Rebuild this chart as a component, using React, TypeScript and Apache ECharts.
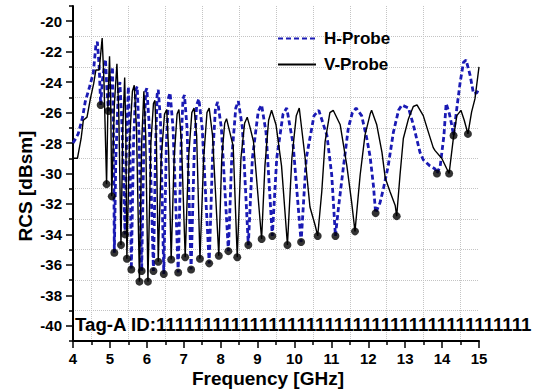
import React, { useEffect, useRef } from "react";
import * as echarts from "echarts";

// H-Probe (blue dashed) : [frequency GHz, RCS dBsm]
const hProbe: number[][] = [
  [4.00, -28.0], [4.05, -27.8], [4.14, -27.4], [4.26, -26.3], [4.33, -25.3], [4.45, -24.3], [4.55, -23.4], [4.62, -21.6], [4.66, -21.35],
  [4.71, -23.0], [4.75, -25.5], [4.80, -23.8], [4.88, -22.5],
  [4.92, -24.5], [4.96, -25.9], [5.01, -24.2], [5.07, -23.0],
  [5.10, -28.0], [5.12, -35.2], [5.16, -29.0], [5.23, -24.5], [5.27, -24.0],
  [5.33, -27.0], [5.41, -34.0], [5.45, -28.0], [5.50, -24.3],
  [5.54, -27.5], [5.58, -36.3], [5.64, -28.0], [5.70, -24.5], [5.74, -24.3],
  [5.79, -27.5], [5.86, -36.4], [5.92, -28.0], [5.97, -24.6], [6.00, -24.4],
  [6.07, -27.0], [6.18, -36.4], [6.24, -28.0], [6.28, -24.8], [6.31, -24.5],
  [6.37, -26.5], [6.46, -36.6], [6.53, -28.0], [6.59, -25.0], [6.63, -24.7],
  [6.71, -27.0], [6.85, -36.5], [6.93, -28.0], [6.98, -25.1], [7.02, -24.85],
  [7.09, -27.0], [7.20, -36.3], [7.28, -29.0], [7.35, -25.5], [7.41, -25.1],
  [7.50, -27.0], [7.69, -35.9], [7.78, -29.0], [7.86, -25.7], [7.92, -25.3],
  [8.02, -27.0], [8.21, -35.1], [8.30, -29.0], [8.41, -25.7], [8.48, -25.25],
  [8.59, -27.0], [8.75, -34.7], [8.86, -29.0], [9.02, -25.9], [9.11, -25.5],
  [9.23, -27.3], [9.40, -34.1], [9.52, -29.0], [9.69, -26.1], [9.79, -25.7],
  [9.96, -28.0], [10.18, -34.5], [10.32, -29.0], [10.53, -26.2], [10.66, -25.85],
  [10.88, -27.5], [11.01, -30.1], [11.08, -32.9], [11.11, -34.1], [11.19, -32.3], [11.33, -29.5], [11.46, -27.0], [11.57, -26.0], [11.67, -25.7],
  [11.82, -26.2], [11.96, -27.7], [12.05, -28.9], [12.14, -30.8], [12.20, -32.6], [12.32, -31.9], [12.41, -31.0], [12.54, -29.5], [12.68, -27.3], [12.82, -25.85], [12.91, -25.5],
  [13.09, -25.7], [13.22, -26.8], [13.40, -28.6], [13.49, -29.1], [13.67, -29.5], [13.81, -29.7], [13.86, -30.0], [13.95, -29.5], [14.05, -27.5], [14.11, -25.4],
  [14.20, -26.1], [14.26, -26.8], [14.31, -27.5], [14.40, -25.7], [14.49, -24.0], [14.58, -22.7], [14.65, -22.55], [14.76, -23.55], [14.85, -24.75], [14.94, -24.7], [15.00, -24.4],
];

// V-Probe (black solid)
const vProbe: number[][] = [
  [4.00, -29.0], [4.12, -29.0], [4.22, -27.7], [4.28, -26.5], [4.38, -26.3], [4.47, -25.1], [4.56, -24.1], [4.62, -23.2], [4.71, -23.2], [4.79, -21.1],
  [4.84, -24.0], [4.91, -30.7], [4.95, -25.0], [4.99, -22.3],
  [5.02, -25.0], [5.05, -31.5], [5.12, -25.5], [5.19, -22.8],
  [5.24, -26.0], [5.30, -34.7], [5.35, -27.0], [5.40, -23.7],
  [5.43, -27.0], [5.46, -35.6], [5.53, -28.0], [5.61, -24.6], [5.66, -24.2],
  [5.72, -27.0], [5.80, -37.1], [5.86, -28.0], [5.92, -24.6],
  [5.97, -27.5], [6.03, -37.1], [6.11, -28.0], [6.18, -25.4], [6.22, -25.2],
  [6.26, -28.0], [6.31, -35.8], [6.39, -29.0], [6.48, -26.1], [6.54, -25.8],
  [6.59, -28.5], [6.66, -35.65], [6.74, -29.0], [6.82, -26.1], [6.87, -25.8],
  [6.94, -28.0], [7.04, -35.5], [7.13, -29.0], [7.22, -26.0], [7.28, -25.7],
  [7.35, -27.5], [7.44, -35.6], [7.54, -29.0], [7.63, -26.0], [7.69, -25.7],
  [7.78, -27.5], [7.95, -35.4], [8.03, -29.0], [8.11, -26.7], [8.16, -26.4],
  [8.22, -27.0], [8.34, -28.2], [8.45, -35.5], [8.55, -29.0], [8.65, -26.7], [8.72, -26.3],
  [8.80, -27.0], [8.89, -27.9], [9.11, -34.3], [9.20, -29.5], [9.30, -26.5], [9.38, -25.85],
  [9.50, -26.8], [9.65, -29.5], [9.81, -34.7], [9.93, -29.0], [10.05, -26.2], [10.13, -25.7],
  [10.29, -29.0], [10.42, -32.2], [10.56, -33.4], [10.63, -34.1], [10.74, -31.2], [10.83, -27.9], [10.96, -26.0], [11.05, -25.85],
  [11.24, -26.8], [11.42, -29.5], [11.55, -31.9], [11.64, -33.8], [11.78, -30.1], [11.91, -27.5], [12.05, -26.1], [12.09, -25.85],
  [12.23, -26.8], [12.37, -28.6], [12.46, -30.3], [12.59, -31.2], [12.73, -32.1], [12.77, -32.8], [12.86, -30.1], [12.95, -27.7], [13.09, -26.4], [13.22, -25.6], [13.32, -25.5],
  [13.49, -26.2], [13.63, -27.3], [13.76, -28.3], [13.81, -28.5], [13.99, -29.0], [14.13, -29.7], [14.19, -30.0], [14.24, -29.0], [14.31, -27.6], [14.40, -26.2], [14.51, -25.85],
  [14.60, -26.5], [14.70, -27.4], [14.80, -25.95], [14.89, -25.1], [15.00, -23.0],
];

// Notch markers (black dots)
const hDips: number[][] = [
  [4.75, -25.5], [4.96, -25.9], [5.12, -35.2], [5.41, -34.0], [5.58, -36.3], [5.86, -36.4], [6.18, -36.4], [6.46, -36.6],
  [6.85, -36.5], [7.20, -36.3], [7.69, -35.9], [8.21, -35.1], [8.75, -34.7], [9.40, -34.1], [10.18, -34.5], [11.11, -34.1],
  [12.20, -32.6], [13.86, -30.0], [14.31, -27.5],
];
const vDips: number[][] = [
  [4.91, -30.7], [5.05, -31.5], [5.30, -34.7], [5.46, -35.6], [5.80, -37.1], [6.03, -37.1], [6.31, -35.8], [6.66, -35.65],
  [7.04, -35.5], [7.44, -35.6], [7.95, -35.4], [8.45, -35.5], [9.11, -34.3], [9.81, -34.7], [10.63, -34.1], [11.64, -33.8],
  [12.77, -32.8], [14.19, -30.0], [14.70, -27.4],
];

const yLabelValues = [-40, -38, -36, -34, -32, -30, -28, -26, -24, -22, -20];
const tagText = "Tag-A ID:1111111111111111111111111111111111111111";
const xTitle = "Frequency [GHz]";
const yTitle = "RCS [dBsm]";

const FONT = "'Liberation Sans', Arial, sans-serif";

export default function App() {
  const ref = useRef<HTMLDivElement>(null);
  useEffect(() => {
    if (!ref.current) return;
    const chart = echarts.init(ref.current, null, { renderer: "svg" });
    const gridLine = { show: true, lineStyle: { color: "#c4c4c4", type: "dotted", width: 1 } };
    chart.setOption({
      animation: false,
      backgroundColor: "#fff",
      grid: { left: 73, right: 57, top: 6, bottom: 51, containLabel: false },
      legend: {
        data: ["H-Probe", "V-Probe"],
        orient: "vertical",
        left: 272,
        top: 25,
        itemWidth: 38,
        itemHeight: 14,
        itemGap: 9,
        itemStyle: { opacity: 0 },
        textStyle: { fontFamily: FONT, fontWeight: "bold", fontSize: 17, color: "#000", padding: [0, 0, 0, 3] },
      },
      xAxis: {
        type: "value",
        min: 4,
        max: 15,
        interval: 1,
        axisLine: { show: true, onZero: false, lineStyle: { color: "#000", width: 2 } },
        axisTick: { show: true, length: 7, lineStyle: { color: "#000", width: 1.5 } },
        minorTick: { show: true, splitNumber: 2, length: 4, lineStyle: { color: "#000", width: 1.5 } },
        splitLine: { show: false },
        minorSplitLine: gridLine,
        axisLabel: { color: "#000", fontFamily: FONT, fontWeight: "bold", fontSize: 15, margin: 10 },
      },
      yAxis: {
        type: "value",
        min: -41,
        max: -19,
        interval: 2,
        axisLine: { show: true, onZero: false, lineStyle: { color: "#000", width: 2 } },
        axisTick: { show: true, length: 4, lineStyle: { color: "#000", width: 1.5 } },
        minorTick: { show: true, splitNumber: 2, length: 7, lineStyle: { color: "#000", width: 1.5 } },
        splitLine: { ...gridLine, showMaxLine: false, showMinLine: false },
        axisLabel: {
          customValues: yLabelValues,
          color: "#000",
          fontFamily: FONT,
          fontWeight: "bold",
          fontSize: 15,
          margin: 11,
        },
      },
      series: [
        {
          name: "H-Probe",
          type: "line",
          data: hProbe,
          symbol: "none",
          color: "#1a1ab4",
          lineStyle: { color: "#1a1ab4", width: 2.8, type: [5, 3] },
          z: 2,
        },
        {
          name: "V-Probe",
          type: "line",
          data: vProbe,
          symbol: "none",
          color: "#000",
          lineStyle: { color: "#000", width: 1.4 },
          z: 3,
        },
        {
          name: "dips",
          type: "scatter",
          data: [...hDips, ...vDips],
          symbol: "circle",
          symbolSize: 8,
          itemStyle: { color: "#000" },
          z: 4,
        },
      ],
      graphic: [
        {
          type: "text",
          left: 75,
          top: 315,
          style: { text: tagText, font: `bold 18.7px ${FONT}`, fill: "#000" },
          z: 10,
        },
        {
          type: "text",
          x: 268,
          y: 378,
          style: { text: xTitle, font: `bold 19px ${FONT}`, fill: "#000", align: "center", verticalAlign: "middle" },
        },
        {
          type: "text",
          x: 25,
          y: 186,
          rotation: Math.PI / 2,
          style: { text: yTitle, font: `bold 19px ${FONT}`, fill: "#000", align: "center", verticalAlign: "middle" },
        },
      ],
    });
    return () => chart.dispose();
  }, []);
  return <div ref={ref} style={{ width: 536, height: 392, position: "absolute", left: 0, top: 0 }} />;
}
